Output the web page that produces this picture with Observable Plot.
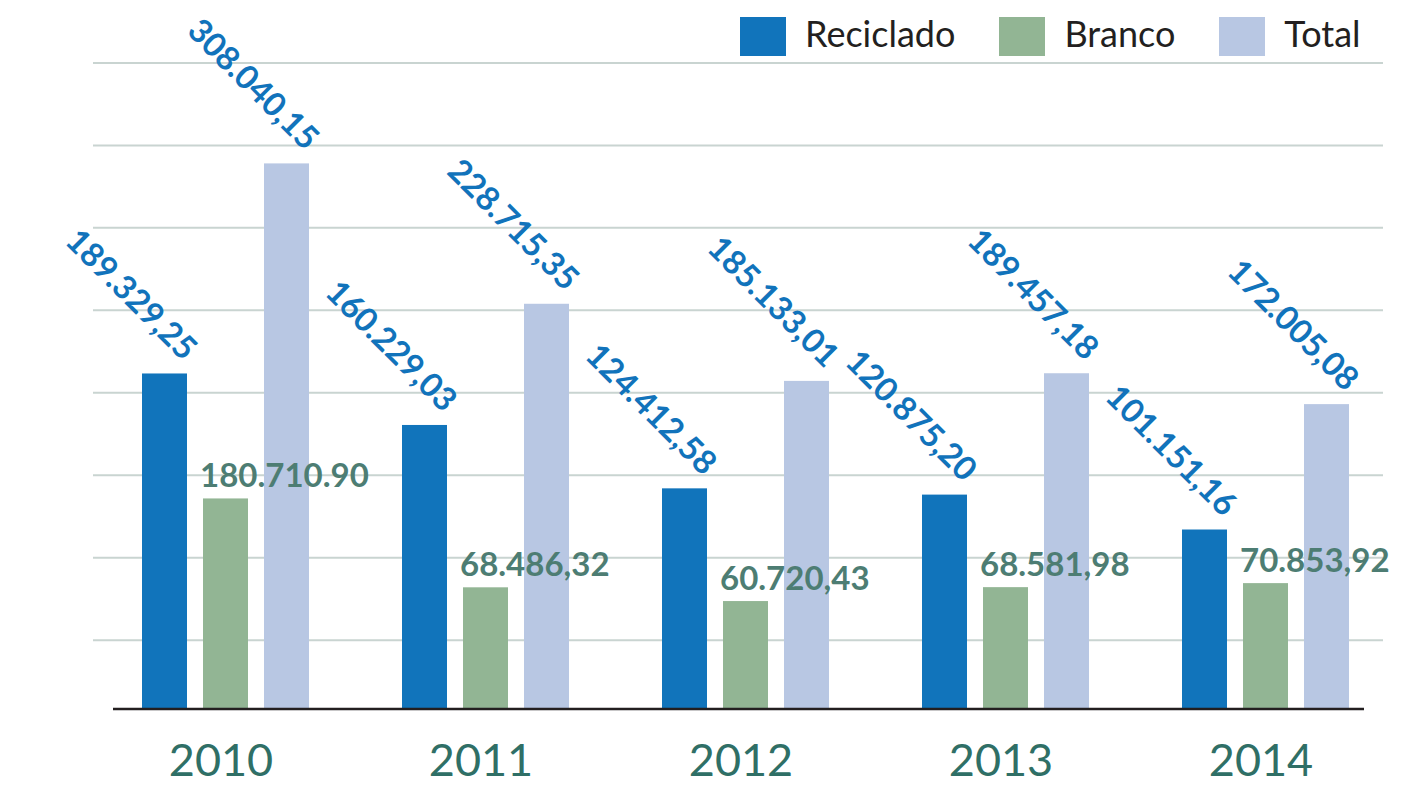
<!DOCTYPE html>
<html>
<head>
<meta charset="utf-8">
<script src="https://cdn.jsdelivr.net/npm/d3@7"></script>
<script src="https://cdn.jsdelivr.net/npm/@observablehq/plot@0.6"></script>
<style>
  html, body { margin: 0; padding: 0; background: #fff; }
  #wrap { position: relative; width: 1420px; height: 794px; overflow: hidden; }
  #legend { position: absolute; left: 740px; top: 17px; display: flex; align-items: flex-start;
            font-family: Lato, "Open Sans", sans-serif; font-size: 36px; color: #231f20; }
  #legend .item { display: flex; align-items: flex-start; margin-right: 44px; height: 39px; }
  #legend .sw { width: 46px; height: 39px; margin-right: 19px; }
  #legend span { line-height: 39px; position: relative; top: -3px; }
</style>
</head>
<body>
<div id="wrap"><div id="chart"></div><div id="legend"></div></div>
<script>
const years = ["2010", "2011", "2012", "2013", "2014"];
const series = ["Reciclado", "Branco", "Total"];
const seriesColors = ["#1174bb", "#92b594", "#b8c7e3"];
const reciclado = [189329.25, 160229.03, 124412.58, 120875.20, 101151.16];
const branco = [118710.90, 68486.32, 60720.43, 68581.98, 70853.92];
const total = [308040.15, 228715.35, 185133.01, 189457.18, 172005.08];
const recicladoLabels = ["189.329,25", "160.229,03", "124.412,58", "120.875,20", "101.151,16"];
const brancoLabels = ["180.710.90", "68.486,32", "60.720,43", "68.581,98", "70.853,92"];
const totalLabels = ["308.040,15", "228.715,35", "185.133,01", "189.457,18", "172.005,08"];
const gridValues = [38900, 85500, 132100, 178700, 225300, 271900, 318500, 365100];

const rows = (vals, labels) => years.map((y, i) => ({year: y, value: vals[i], label: labels[i]}));
const recData = rows(reciclado, recicladoLabels);
const branData = rows(branco, brancoLabels);
const totData = rows(total, totalLabels);

const off = 61; // spacing between bars inside a group
const blue = "#1173bb", green = "#4d7d73";

const chart = Plot.plot({
  width: 1420,
  height: 794,
  marginTop: 57.3,
  marginBottom: 85.5,
  marginLeft: 93,
  marginRight: 37,
  x: {domain: years, range: [95.5, 1395.5], paddingInner: 0.827, paddingOuter: 0.4135, axis: null},
  y: {domain: [0, 368000], axis: null},
  style: {fontFamily: "Lato, 'Open Sans', sans-serif", background: "white", overflow: "visible"},
  marks: [
    Plot.ruleY(gridValues, {stroke: "#c9d4d1", strokeWidth: 2}),
    Plot.barY(recData, {x: "year", y: "value", fill: seriesColors[0], dx: -off}),
    Plot.barY(branData, {x: "year", y: "value", fill: seriesColors[1]}),
    Plot.barY(totData, {x: "year", y: "value", fill: seriesColors[2], dx: off}),
    Plot.ruleY([0], {stroke: "#231f20", strokeWidth: 2.5, insetLeft: 20, insetRight: 19}),
    Plot.text(recData, {x: "year", y: "value", text: "label", rotate: 45, textAnchor: "end",
      lineAnchor: "bottom", dx: -off + 18, dy: -12, fill: blue, fontSize: 33, fontWeight: 700}),
    Plot.text(totData, {x: "year", y: "value", text: "label", rotate: 45, textAnchor: "end",
      lineAnchor: "bottom", dx: off + 18, dy: -12, fill: blue, fontSize: 33, fontWeight: 700}),
    Plot.text(branData, {x: "year", y: "value", text: "label", textAnchor: "start",
      lineAnchor: "bottom", dx: -26, dy: -12, fill: green, fontSize: 33, fontWeight: 700}),
    Plot.text(years, {x: d => d, frameAnchor: "bottom", lineAnchor: "bottom", dx: -5, dy: 67,
      fill: "#2f6f66", fontSize: 45})
  ]
});
document.getElementById("chart").appendChild(chart);

const legend = document.getElementById("legend");
series.forEach((s, i) => {
  const item = document.createElement("div");
  item.className = "item";
  const sw = document.createElement("div");
  sw.className = "sw";
  sw.style.background = seriesColors[i];
  const t = document.createElement("span");
  t.textContent = s;
  item.appendChild(sw);
  item.appendChild(t);
  legend.appendChild(item);
});
</script>
</body>
</html>
